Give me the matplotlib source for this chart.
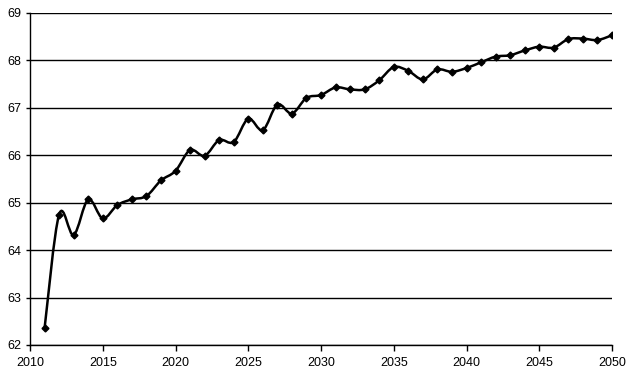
import numpy as np
import matplotlib
matplotlib.use("Agg")
import matplotlib.pyplot as plt
from matplotlib.path import Path
from matplotlib.patches import PathPatch

plt.rcParams['font.family'] = ['Liberation Sans', 'DejaVu Sans']

years = list(range(2011, 2051))
values = [62.35, 64.75, 64.32, 65.07, 64.67, 64.95, 65.07, 65.14, 65.47, 65.67,
          66.11, 65.99, 66.32, 66.28, 66.77, 66.53, 67.07, 66.88, 67.21, 67.27,
          67.43, 67.39, 67.39, 67.58, 67.86, 67.78, 67.60, 67.81, 67.76, 67.84,
          67.96, 68.08, 68.11, 68.21, 68.29, 68.27, 68.45, 68.46, 68.43, 68.53]
x_ticks = [2010, 2015, 2020, 2025, 2030, 2035, 2040, 2045, 2050]
y_ticks = [62, 63, 64, 65, 66, 67, 68, 69]

fig = plt.figure(figsize=(6.29, 3.85), dpi=100)
ax = fig.add_axes([30 / 629, 1 - 345 / 385, (612 - 30) / 629, (345 - 13) / 385])

# smoothed line like excel (bezier through the points)
pts = np.column_stack([years, values]).astype(float)
verts = [pts[0]]
codes = [Path.MOVETO]
n = len(pts)
for i in range(n - 1):
    p0 = pts[i - 1] if i > 0 else pts[i]
    p1 = pts[i]
    p2 = pts[i + 1]
    p3 = pts[i + 2] if i + 2 < n else pts[i + 1]
    c1 = p1 + (p2 - p0) / 6
    c2 = p2 - (p3 - p1) / 6
    verts += [c1, c2, p2]
    codes += [Path.CURVE4] * 3
ax.add_patch(PathPatch(Path(verts, codes), facecolor='none', edgecolor='black',
                       lw=1.8, zorder=3))
ax.plot(years, values, linestyle='none', marker='D', markersize=3.5,
        color='black', zorder=4)

ax.set_xlim(2010, 2050)
ax.set_ylim(62, 69)
ax.set_xticks(x_ticks)
ax.set_yticks(y_ticks)
ax.grid(axis='y', color='black', lw=1)
ax.set_axisbelow(True)
for s in ['top', 'right']:
    ax.spines[s].set_visible(False)
for s in ['left', 'bottom']:
    ax.spines[s].set_linewidth(1)
ax.tick_params(axis='both', direction='out', length=4, width=1, labelsize=9,
               colors='black')
ax.tick_params(axis='x', pad=5)
ax.tick_params(axis='y', length=3, pad=3)

fig.savefig('out.png', dpi=100)
